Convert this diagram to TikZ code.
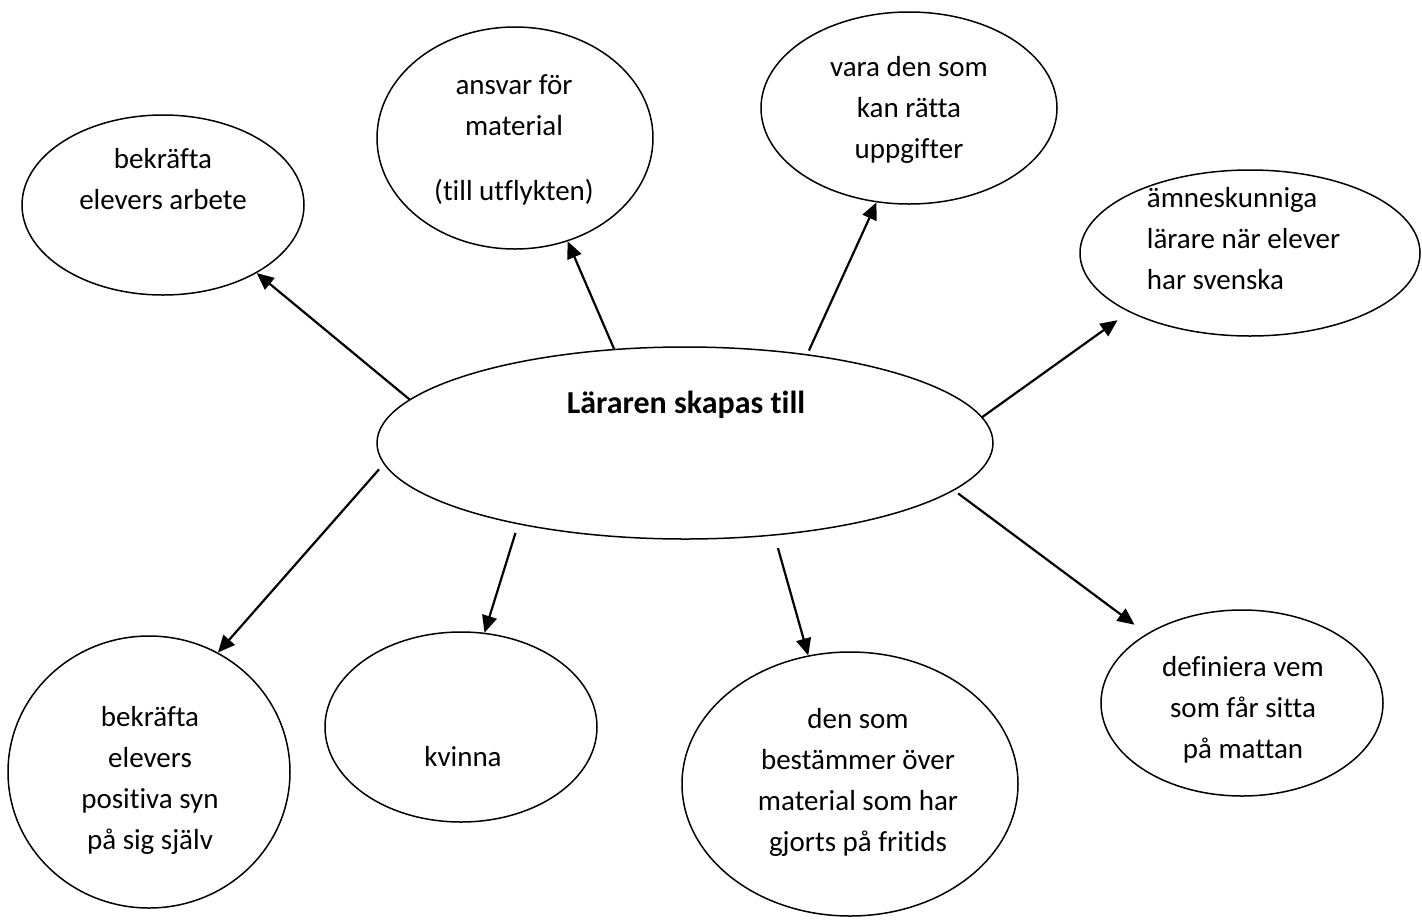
\documentclass[tikz,border=0pt]{standalone}
\usepackage{fontspec}
\setmainfont{Carlito}[Ligatures=NoCommon]
\usetikzlibrary{shapes.geometric,arrows.meta}
\begin{document}
\begin{tikzpicture}[x=1pt,y=-1pt,
  bubble/.style={ellipse,draw=black,line width=1.5pt,inner sep=0pt},
  txt/.style={font=\fontsize{29}{41}\selectfont,inner sep=0pt,align=center,anchor=base},
  arr/.style={line width=2.2pt,-{Triangle[length=17pt,width=15pt]}}]
\useasboundingbox (0,0) rectangle (1422,919);
% ellipses
\node[bubble,minimum width=282pt,minimum height=180pt] (e1) at (163,205) {};
\node[bubble,minimum width=276pt,minimum height=222pt] (e2) at (515,138) {};
\node[bubble,minimum width=296pt,minimum height=192pt] (e3) at (909,108) {};
\node[bubble,minimum width=340pt,minimum height=166pt] (e4) at (1250,253) {};
\node[bubble,minimum width=616pt,minimum height=192pt] (c) at (685,443) {};
\node[bubble,minimum width=282pt,minimum height=272pt] (e6) at (149,772) {};
\node[bubble,minimum width=272pt,minimum height=190pt] (e7) at (461,727) {};
\node[bubble,minimum width=336pt,minimum height=264pt] (e8) at (850,784) {};
\node[bubble,minimum width=282pt,minimum height=186pt] (e9) at (1242,703) {};
% texts (anchored at the baseline of their last line)
\node[txt] (t1) at (163,209) {bekräfta\\elevers arbete};
\node[txt] (t2) at (514,200) {ansvar för\\material\\[24pt](till utflykten)};
\node[txt] (t3) at (909,158) {vara den som\\kan rätta\\uppgifter};
\node[txt,anchor=base west,align=left] (t4) at (1146.7,289) {ämneskunniga\\lärare när elever\\har svenska};
\node[txt,font=\fontsize{32}{41}\selectfont\bfseries] (tc) at (686,413) {Läraren skapas till};
\node[txt] (t6) at (150,849) {bekräfta\\elevers\\positiva syn\\på sig själv};
\node[txt] (t7) at (463,766) {kvinna};
\node[txt] (t8) at (858,851) {den som\\bestämmer över\\material som har\\gjorts på fritids};
\node[txt] (t9) at (1243,758) {definiera vem\\som får sitta\\på mattan};
% arrows
\draw[arr] (c.171.6) -- (e1.-36.4);
\draw[arr] (c.127.5) -- (e2.-63.4);
\draw[arr,shorten <=4pt] (c.36.6) -- (e3.251.9);
\draw[arr,shorten >=14pt] (c.5.4) -- (e4.206.7);
\draw[arr,shorten <=7pt] (c.184.2) -- (e6.60.1);
\draw[arr,shorten <=9pt] (c.206.6) -- (e7.76.3);
\draw[arr,shorten <=13pt] (c.-46.4) -- (e8.108.3);
\draw[arr,shorten <=5pt,shorten >=15pt] (c.-10.1) -- (e9.144.8);
\end{tikzpicture}
\end{document}
